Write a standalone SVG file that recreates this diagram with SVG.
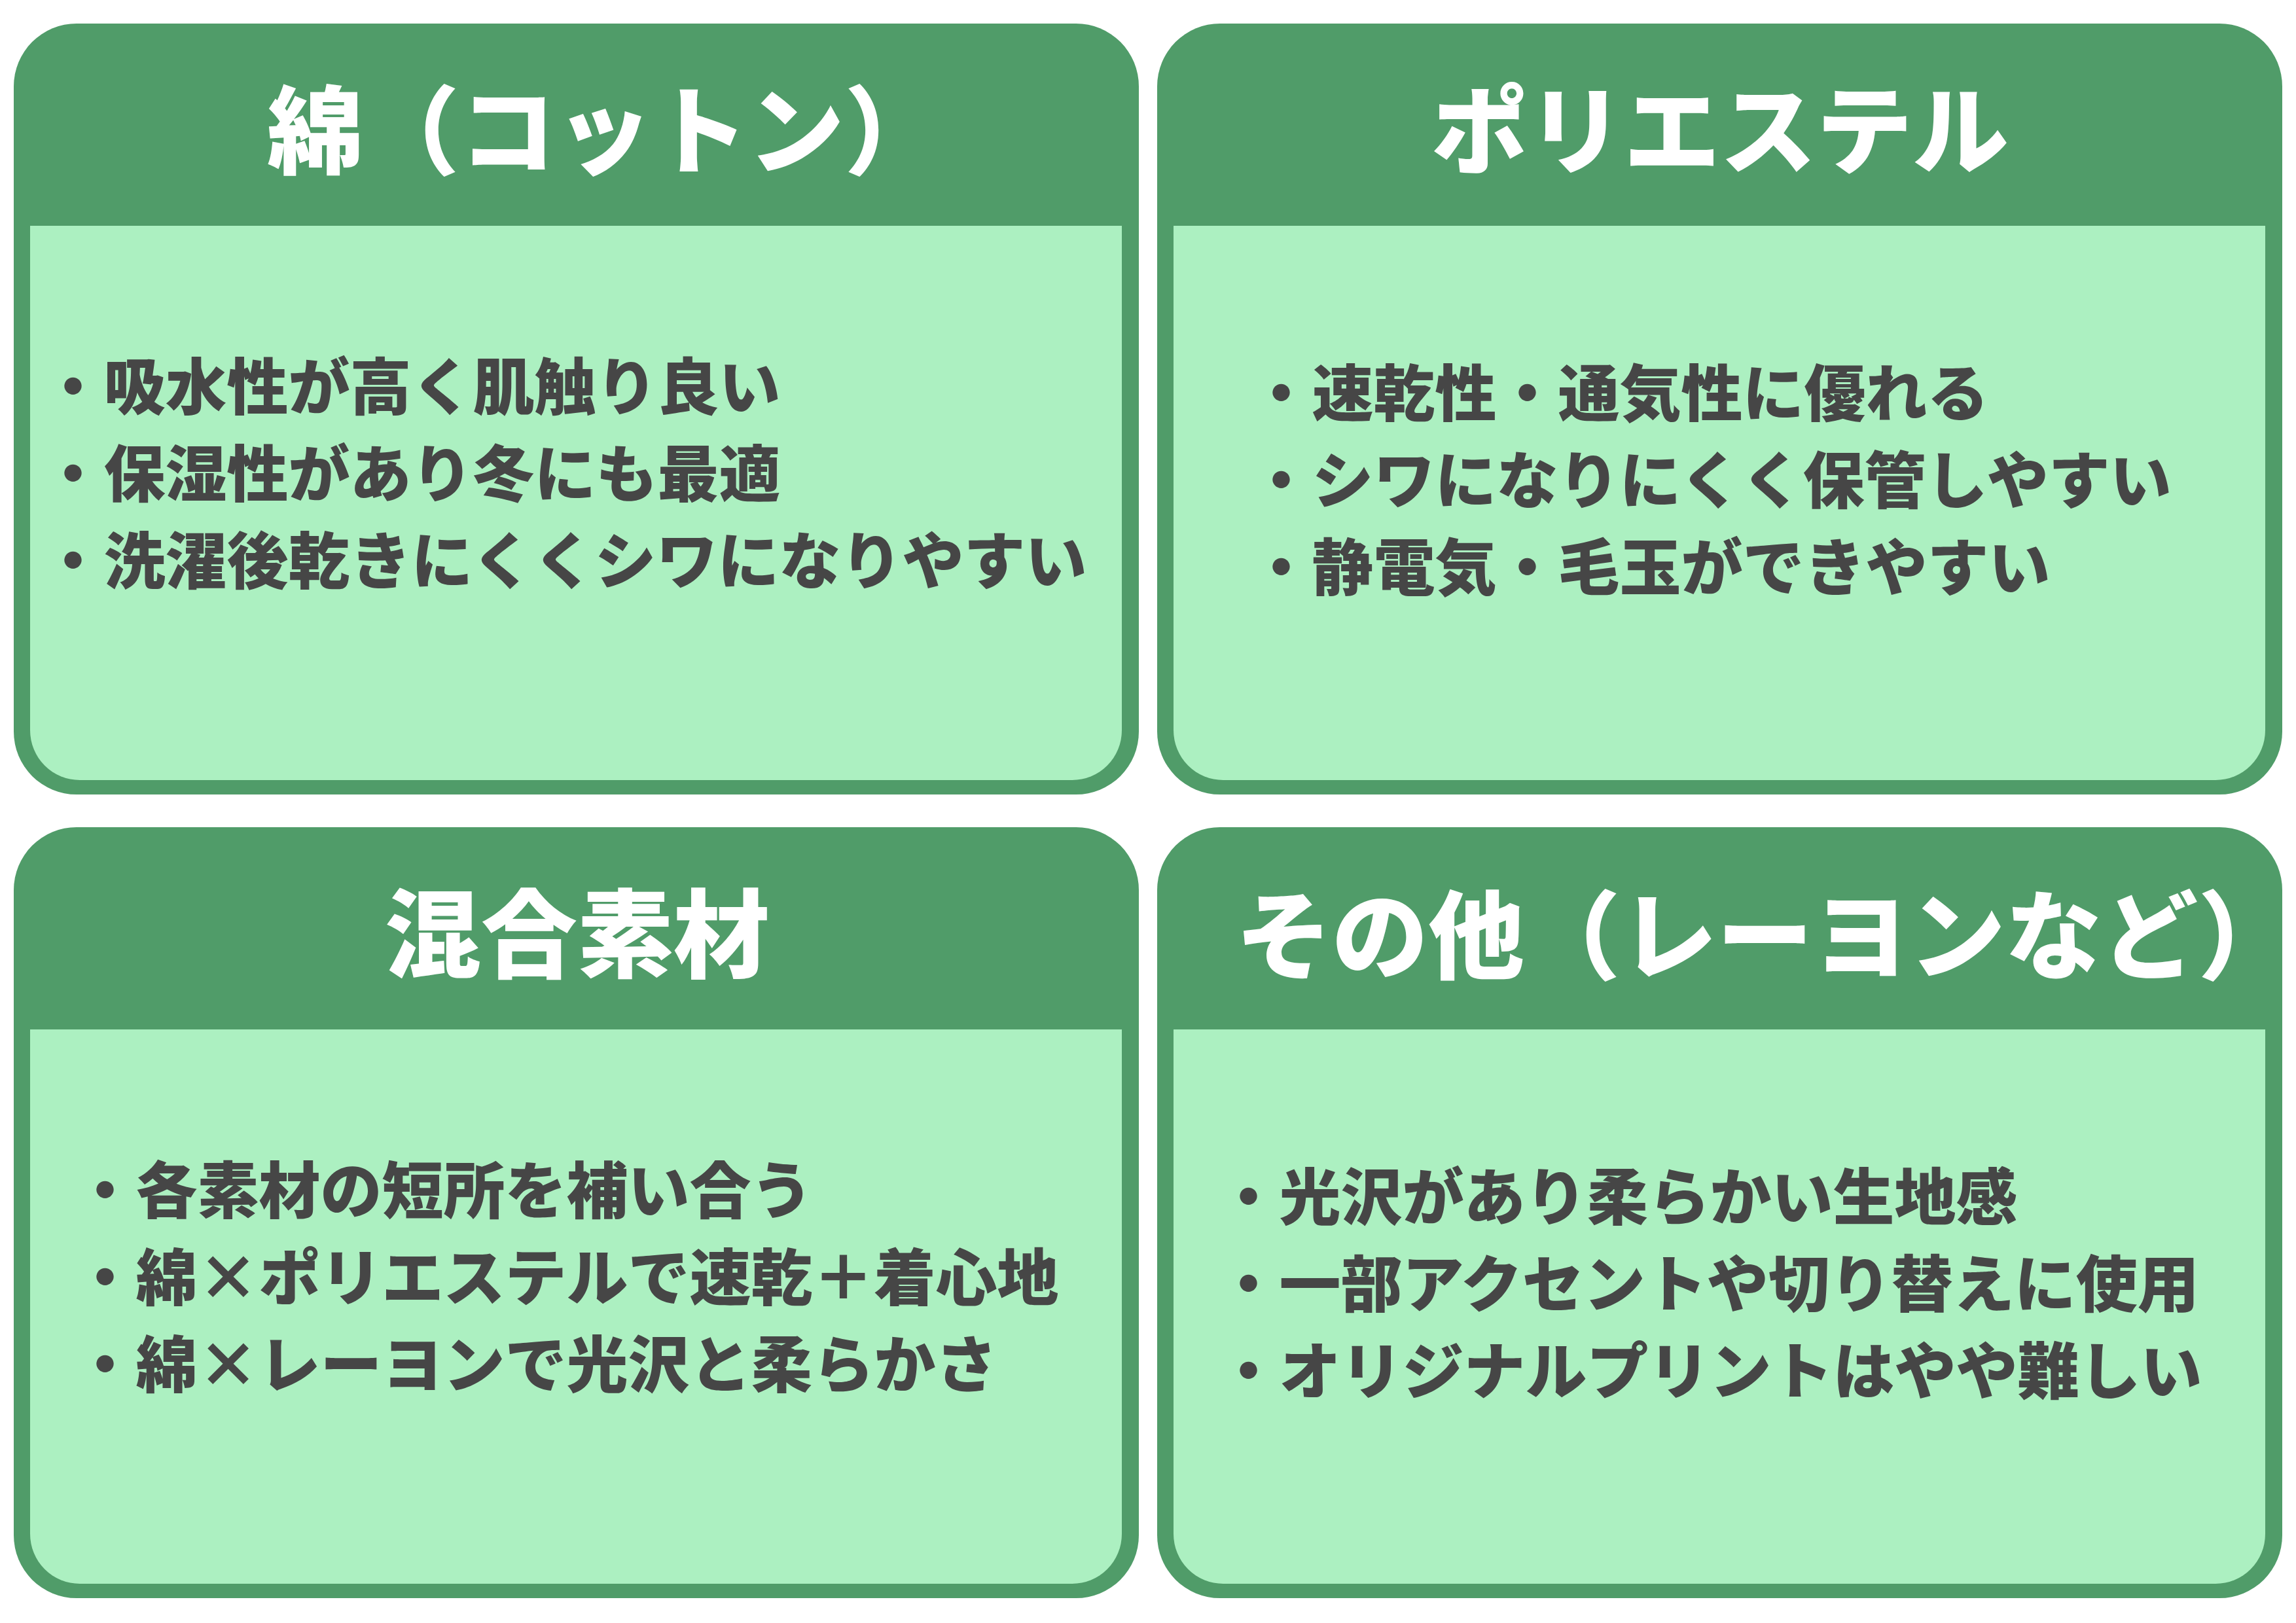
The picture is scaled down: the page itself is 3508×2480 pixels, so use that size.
<svg xmlns="http://www.w3.org/2000/svg" width="3508" height="2480" viewBox="0 0 3508 2480">
<defs>
<style>
.outer{fill:#509C69}
.inner{fill:#ACF0C1}
.title{font-family:"Noto Sans CJK JP","Noto Sans CJK SC",sans-serif;font-weight:900;font-size:147px;fill:#FFFFFF}
.body{font-family:"Noto Sans CJK JP","Noto Sans CJK SC",sans-serif;font-weight:900;font-size:94px;fill:#464646}
</style>
<path id="cardOuter" d="M96,0 H1623 A96,96 0 0 1 1719,96 V1082 A96,96 0 0 1 1623,1178 H96 A96,96 0 0 1 0,1082 V96 A96,96 0 0 1 96,0 Z"/>
<path id="cardInner" d="M25,309 H1693 V1080 A76,76 0 0 1 1617,1156 H101 A76,76 0 0 1 25,1080 Z"/>
</defs>
<rect width="3508" height="2480" fill="#FFFFFF"/>
<g id="connectors"></g>
<g id="card-cotton" transform="translate(21,36)">
<use href="#cardOuter" class="outer"/>
<use href="#cardInner" class="inner"/>
<text class="title" x="387" y="218">綿（コットン）</text>
<text class="body" x="43.5" y="590">・吸水性が高く肌触り良い</text>
<text class="body" x="43.5" y="723">・保湿性があり冬にも最適</text>
<text class="body" x="43.5" y="856">・洗濯後乾きにくくシワになりやすい</text>
</g>
<g id="card-polyester" transform="translate(1768,36)">
<use href="#cardOuter" class="outer"/>
<use href="#cardInner" class="inner"/>
<text class="title" x="860" y="218" text-anchor="middle">ポリエステル</text>
<text class="body" x="142.5" y="600">・速乾性・通気性に優れる</text>
<text class="body" x="142.5" y="733">・シワになりにくく保管しやすい</text>
<text class="body" x="142.5" y="866">・静電気・毛玉ができやすい</text>
</g>
<g id="card-blend" transform="translate(21,1264)">
<use href="#cardOuter" class="outer"/>
<use href="#cardInner" class="inner"/>
<text class="title" x="861" y="218" text-anchor="middle">混合素材</text>
<text class="body" x="92.5" y="590">・各素材の短所を補い合う</text>
<text class="body" x="92.5" y="723">・綿×ポリエステルで速乾＋着心地</text>
<text class="body" x="92.5" y="856">・綿×レーヨンで光沢と柔らかさ</text>
</g>
<g id="card-other" transform="translate(1768,1264)">
<use href="#cardOuter" class="outer"/>
<use href="#cardInner" class="inner"/>
<text class="title" x="120" y="220">その他（レーヨンなど）</text>
<text class="body" x="92.5" y="600">・光沢があり柔らかい生地感</text>
<text class="body" x="92.5" y="733">・一部アクセントや切り替えに使用</text>
<text class="body" x="92.5" y="866">・オリジナルプリントはやや難しい</text>
</g>
</svg>
